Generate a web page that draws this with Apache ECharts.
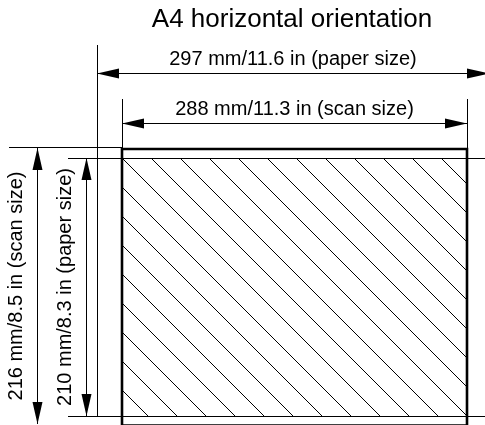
<!DOCTYPE html>
<html>
<head>
<meta charset="utf-8">
<script src="https://cdn.jsdelivr.net/npm/echarts@6/dist/echarts.min.js"></script>
<style>
html, body { margin: 0; padding: 0; background: #fff; }
#chart { width: 485px; height: 425px; }
</style>
</head>
<body>
<div id="chart"></div>
<script>
// drawing units: 1 unit = 1 px of the original figure, y grows downward
const titleText = 'A4 horizontal orientation';

// left, top, right, bottom
const scanRect = [122, 149, 467, 425.6];
const hatchArea = [122, 158, 467, 416];   // paper ∩ scan

// thin witness lines: x1, y1, x2, y2
const extLines = [
    [97, 45, 97, 416],     // paper left
    [68, 158, 490, 158],   // paper top
    [68, 416, 490, 416],   // paper bottom
    [122, 99, 122, 149],   // scan left
    [467, 99, 467, 149],   // scan right
    [9, 147, 122, 147],    // scan top
];

// dimension arrows: x1, y1, x2, y2
const dimArrows = [
    [97, 73, 489, 73],
    [122, 123, 467, 123],
    [37, 148, 37, 424],
    [86, 158, 86, 416],
];
const dimLabels = [
    '297 mm/11.6 in (paper size)',
    '288 mm/11.3 in (scan size)',
    '216 mm/8.5 in (scan size)',
    '210 mm/8.3 in (paper size)',
];

const FONT = '"Liberation Sans", Arial, Helvetica, sans-serif';
const crisp = v => Math.floor(v) + 0.5;

function renderExt(params, api) {
    const a = api.coord([api.value(0), api.value(1)]);
    const b = api.coord([api.value(2), api.value(3)]);
    const vert = a[0] === b[0];
    return {
        type: 'line',
        shape: {
            x1: vert ? crisp(a[0]) : a[0], y1: vert ? a[1] : crisp(a[1]),
            x2: vert ? crisp(b[0]) : b[0], y2: vert ? b[1] : crisp(b[1])
        },
        style: { stroke: '#000', lineWidth: 1 }
    };
}

function renderArrow(params, api) {
    const a = api.coord([api.value(0), api.value(1)]);
    const b = api.coord([api.value(2), api.value(3)]);
    const vert = Math.abs(b[1] - a[1]) > Math.abs(b[0] - a[0]);
    if (vert) { a[0] = b[0] = crisp(a[0]); } else { a[1] = b[1] = crisp(a[1]); }
    const dx = b[0] - a[0], dy = b[1] - a[1];
    const len = Math.hypot(dx, dy);
    const ux = dx / len, uy = dy / len;
    const nx = -uy, ny = ux;
    const headLen = 22, headHalf = 5;
    const head = (tip, dir) => ({
        type: 'polygon',
        shape: { points: [
            tip,
            [tip[0] + dir * ux * headLen + nx * headHalf, tip[1] + dir * uy * headLen + ny * headHalf],
            [tip[0] + dir * ux * headLen - nx * headHalf, tip[1] + dir * uy * headLen - ny * headHalf]
        ] },
        style: { fill: '#000' }
    });
    const mid = [(a[0] + b[0]) / 2, (a[1] + b[1]) / 2];
    const textStyle = {
        text: dimLabels[params.dataIndex], x: 0, y: 0,
        align: 'center', verticalAlign: 'middle',
        fontSize: 20, fontFamily: FONT, fill: '#000'
    };
    const label = vert
        ? { type: 'text', x: mid[0] - 21, y: mid[1], rotation: Math.PI / 2, style: textStyle }
        : { type: 'text', x: mid[0], y: mid[1] - 14, style: textStyle };
    return {
        type: 'group',
        children: [
            { type: 'line', shape: { x1: a[0], y1: a[1], x2: b[0], y2: b[1] }, style: { stroke: '#000', lineWidth: 1 } },
            head(a, 1), head(b, -1), label
        ]
    };
}

function renderScan(params, api) {
    const p0 = api.coord([api.value(0), api.value(1)]);
    const p1 = api.coord([api.value(2), api.value(3)]);
    return {
        type: 'rect',
        shape: { x: p0[0], y: p0[1], width: p1[0] - p0[0], height: p1[1] - p0[1] },
        style: { fill: null, stroke: '#000', lineWidth: 2.6 }
    };
}

function renderHatch(params, api) {
    const p0 = api.coord([api.value(0), api.value(1)]);
    const p1 = api.coord([api.value(2), api.value(3)]);
    const step = 29;
    const c0 = p0[0] - p0[1];
    const children = [];
    for (let k = -Math.ceil((p1[1] - p0[1]) / step); k <= Math.ceil((p1[0] - p0[0]) / step); k++) {
        const c = c0 + k * step;                 // line: x - y = c
        const xs = Math.max(p0[0], p0[1] + c);
        const xe = Math.min(p1[0], p1[1] + c);
        if (xe - xs < 0.5) continue;
        children.push({
            type: 'line',
            shape: { x1: xs, y1: xs - c, x2: xe, y2: xe - c },
            style: { stroke: '#000', lineWidth: 1 }
        });
    }
    return { type: 'group', children };
}

const chart = echarts.init(document.getElementById('chart'));
chart.setOption({
    animation: false,
    backgroundColor: '#fff',
    title: {
        text: titleText,
        left: 292,
        top: 7,
        padding: 0,
        textAlign: 'center',
        textStyle: { fontSize: 26, fontWeight: 'normal', color: '#000', fontFamily: FONT }
    },
    grid: { left: 0, right: 0, top: 0, bottom: 0 },
    xAxis: { type: 'value', min: 0, max: 485, show: false },
    yAxis: { type: 'value', min: 0, max: 425, inverse: true, show: false },
    series: [
        { type: 'custom', name: 'hatch', renderItem: renderHatch, data: [hatchArea], silent: true },
        { type: 'custom', name: 'witness', renderItem: renderExt, data: extLines, silent: true },
        { type: 'custom', name: 'scan', renderItem: renderScan, data: [scanRect], silent: true },
        { type: 'custom', name: 'dimensions', renderItem: renderArrow, data: dimArrows, silent: true }
    ]
});
</script>
</body>
</html>
